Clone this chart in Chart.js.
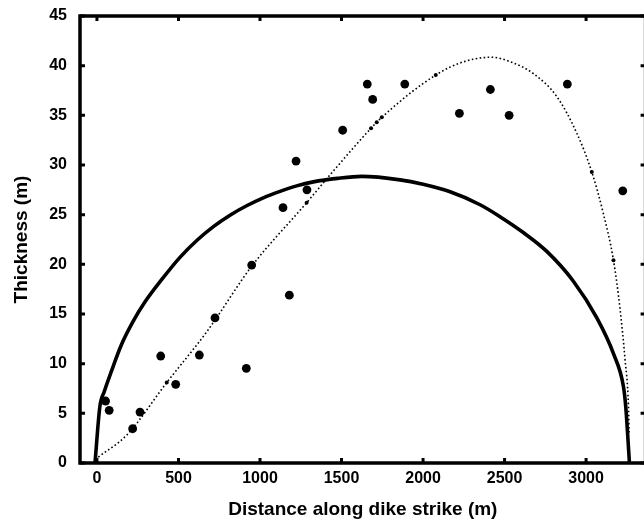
<!DOCTYPE html>
<html>
<head>
<meta charset="utf-8">
<script src="https://cdn.jsdelivr.net/npm/chart.js@4/dist/chart.umd.min.js"></script>
<style>
  html, body { margin: 0; padding: 0; background: #fff; overflow: hidden; }
  #wrap { width: 644px; height: 523px; overflow: hidden; }
</style>
</head>
<body>
<div id="wrap"><canvas id="myChart" width="650" height="523"></canvas></div>
<script>
// measured thickness points
const obsX = [53, 75, 219, 264, 391, 483, 628, 724, 916, 949, 1141, 1180, 1221, 1288, 1507, 1658, 1691, 1888, 2223, 2413, 2528, 2885, 3225];
const obsY = [6.24, 5.3, 3.45, 5.13, 10.77, 7.92, 10.87, 14.6, 9.53, 19.93, 25.7, 16.9, 30.4, 27.5, 33.5, 38.15, 36.6, 38.15, 35.2, 37.6, 35.0, 38.15, 27.4];

// small dots sitting on the dotted curve
const smallX = [428, 1286, 1681, 1716, 1747, 2078, 3035, 3168];
const smallY = [8.1, 26.2, 33.7, 34.3, 34.8, 39.06, 29.3, 20.4];

// solid (elliptical) profile
const solidX = [-12, 18, 45, 90, 150, 220, 294, 399, 509, 612, 714, 816, 918, 1020, 1123, 1225, 1327, 1475, 1624, 1859, 2000, 2166, 2350, 2472, 2615, 2759, 2922, 3066, 3168, 3229, 3243, 3266];
const solidY = [0, 5.7, 7.2, 9.3, 11.9, 14.2, 16.2, 18.5, 20.7, 22.4, 23.8, 24.95, 25.9, 26.7, 27.35, 27.9, 28.3, 28.65, 28.85, 28.5, 28.05, 27.3, 26.0, 24.8, 23.2, 21.3, 18.3, 14.6, 11.0, 7.7, 5.7, 0];

// dotted profile
const dotX = [8, 182, 428, 673, 949, 1286, 1450, 1681, 1747, 2078, 2250, 2420, 2534, 2677, 2820, 2943, 3035, 3106, 3168, 3209, 3239, 3260, 3264];
const dotY = [0.6, 2.8, 8.1, 13.2, 19.8, 26.2, 29.4, 33.7, 34.8, 39.06, 40.4, 40.85, 40.4, 39.2, 36.9, 33.2, 29.3, 25.1, 20.4, 15.4, 10.4, 5.7, 3];

const xTicks = [0, 500, 1000, 1500, 2000, 2500, 3000];
const yTicks = [0, 5, 10, 15, 20, 25, 30, 35, 40, 45];

const pts = (xs, ys) => xs.map((x, i) => ({ x: x, y: ys[i] }));
const FONT = "'Liberation Sans', Arial, Helvetica, sans-serif";

// box round the plot with inward tick marks
const framePlugin = {
  id: 'frame',
  afterDraw(chart) {
    const ctx = chart.ctx;
    const a = chart.chartArea;
    const xs = chart.scales.x, ys = chart.scales.y;
    ctx.save();
    ctx.strokeStyle = '#000';
    ctx.lineWidth = 3.5;
    ctx.strokeRect(a.left, a.top, a.right - a.left, a.bottom - a.top);
    ctx.lineWidth = 3;
    ctx.beginPath();
    xTicks.forEach(v => {
      const p = xs.getPixelForValue(v);
      ctx.moveTo(p, a.bottom); ctx.lineTo(p, a.bottom - 5);
      ctx.moveTo(p, a.top); ctx.lineTo(p, a.top + 5);
    });
    yTicks.forEach(v => {
      const p = ys.getPixelForValue(v);
      ctx.moveTo(a.left, p); ctx.lineTo(a.left + 5, p);
      ctx.moveTo(a.right, p); ctx.lineTo(a.right - 5, p);
    });
    ctx.stroke();
    ctx.restore();
  }
};

const data = {
  datasets: [
    {
      type: 'line',
      label: 'solid',
      data: pts(solidX, solidY),
      borderColor: '#000',
      borderWidth: 3.6,
      pointRadius: 0,
      cubicInterpolationMode: 'monotone',
      fill: false
    },
    {
      type: 'line',
      label: 'dotted',
      data: pts(dotX, dotY),
      borderColor: '#000',
      borderWidth: 1.6,
      borderDash: [1.6, 2.4],
      pointRadius: 0,
      cubicInterpolationMode: 'monotone',
      fill: false
    },
    {
      type: 'scatter',
      label: 'small',
      data: pts(smallX, smallY),
      backgroundColor: '#000',
      borderWidth: 0,
      pointRadius: 2
    },
    {
      type: 'scatter',
      label: 'measured',
      data: pts(obsX, obsY),
      backgroundColor: '#000',
      borderWidth: 0,
      pointRadius: 4.4
    }
  ]
};

const tickFont = { family: FONT, size: 16, weight: 'bold' };
const titleFont = { family: FONT, size: 19, weight: 'bold' };

const config = {
  type: 'scatter',
  data: data,
  options: {
    responsive: false,
    animation: false,
    layout: { padding: { top: 16, right: 4, left: 0, bottom: 0 } },
    plugins: { legend: { display: false }, tooltip: { enabled: false } },
    scales: {
      x: {
        type: 'linear',
        min: -104,
        max: 3365,
        afterBuildTicks: s => { s.ticks = xTicks.map(v => ({ value: v })); },
        afterFit: s => { s.height = 60; s.paddingLeft = 0; s.paddingRight = 0; },
        grid: { display: false, drawTicks: false },
        border: { display: false },
        ticks: { color: '#000', padding: 6, maxRotation: 0, font: tickFont, callback: v => String(v) },
        title: {
          display: true,
          text: 'Distance along dike strike (m)',
          color: '#000',
          font: titleFont,
          padding: { top: 0, bottom: 2 }
        }
      },
      y: {
        min: 0,
        max: 45,
        afterBuildTicks: s => { s.ticks = yTicks.map(v => ({ value: v })); },
        afterFit: s => { s.width = 80; s.paddingTop = 0; s.paddingBottom = 0; },
        grid: { display: false, drawTicks: false },
        border: { display: false },
        ticks: { color: '#000', padding: 13, font: tickFont, callback: v => String(v) },
        title: {
          display: true,
          text: 'Thickness (m)',
          color: '#000',
          font: titleFont,
          padding: { top: 10, bottom: 0 }
        }
      }
    }
  },
  plugins: [framePlugin]
};

const myChart = new Chart('myChart', config);
</script>
</body>
</html>
